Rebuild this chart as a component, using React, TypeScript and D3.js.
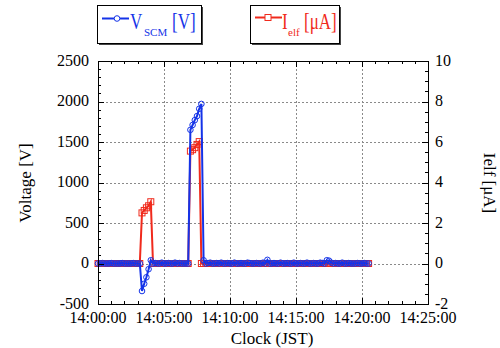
import React, { useEffect, useRef } from 'react';
import * as d3 from 'd3';

// sample clock (every 10 s from 14:00:00)
const clock = [
  '14:00:00','14:00:10','14:00:20','14:00:30','14:00:40','14:00:50',
  '14:01:00','14:01:10','14:01:20','14:01:30','14:01:40','14:01:50',
  '14:02:00','14:02:10','14:02:20','14:02:30','14:02:40','14:02:50',
  '14:03:00','14:03:10','14:03:20','14:03:30','14:03:40','14:03:50',
  '14:04:00','14:04:10','14:04:20','14:04:30','14:04:40','14:04:50',
  '14:05:00','14:05:10','14:05:20','14:05:30','14:05:40','14:05:50',
  '14:06:00','14:06:10','14:06:20','14:06:30','14:06:40','14:06:50',
  '14:07:00','14:07:10','14:07:20','14:07:30','14:07:40','14:07:50',
  '14:08:00','14:08:10','14:08:20','14:08:30','14:08:40','14:08:50',
  '14:09:00','14:09:10','14:09:20','14:09:30','14:09:40','14:09:50',
  '14:10:00','14:10:10','14:10:20','14:10:30','14:10:40','14:10:50',
  '14:11:00','14:11:10','14:11:20','14:11:30','14:11:40','14:11:50',
  '14:12:00','14:12:10','14:12:20','14:12:30','14:12:40','14:12:50',
  '14:13:00','14:13:10','14:13:20','14:13:30','14:13:40','14:13:50',
  '14:14:00','14:14:10','14:14:20','14:14:30','14:14:40','14:14:50',
  '14:15:00','14:15:10','14:15:20','14:15:30','14:15:40','14:15:50',
  '14:16:00','14:16:10','14:16:20','14:16:30','14:16:40','14:16:50',
  '14:17:00','14:17:10','14:17:20','14:17:30','14:17:40','14:17:50',
  '14:18:00','14:18:10','14:18:20','14:18:30','14:18:40','14:18:50',
  '14:19:00','14:19:10','14:19:20','14:19:30','14:19:40','14:19:50',
  '14:20:00','14:20:10','14:20:20','14:20:30',
];

// V_SCM [V]
const vscm = [
  0, 0, 5, 0, 0, 0, 5, 0, 0, 0, 0, 5, 0, 0, 0, 0, 5, 0,
  0, 0, -340, -250, -170, -70, 40, 0,
  5, 0, 0, 10, 0, 0, 5, 0, 0, 10, 0, 5, 0, 0, 0, 0,
  1650, 1710, 1770, 1820, 1910, 1970, 40,
  0, 5, 10, 0, 0, 5, 0, 10, 0, 0, 5, 0, 0, 10, 0, 0, 5, 0, 0, 10, 5, 0,
  0, 5, 0, 0, 10, 0, 45, 0, 0, 5, 0, 0, 10, 0, 0, 5, 0, 0, 10, 0, 0, 5,
  0, 0, 10, 0, 0, 5, 0, 0, 10, 5, 0, 40, 35, 10, 0, 5, 0, 0, 10, 0, 0,
  5, 0, 0, 0, 5, 0, 0, 5, 0, 0,
];

// I_elf [uA]
const ielf = [
  0, 0, 0, 0, 0, 0, 0, 0, 0, 0, 0, 0, 0, 0, 0, 0, 0, 0,
  0, 0, 2.5, 2.62, 2.75, 2.85, 3.05, 0,
  0, 0, 0, 0, 0, 0, 0, 0, 0, 0, 0, 0, 0, 0, 0, 0,
  5.55, 5.62, 5.72, 5.88, 6.02, 0, 0,
  0, 0, 0, 0, 0, 0, 0, 0, 0, 0, 0, 0, 0, 0, 0, 0, 0, 0, 0, 0, 0, 0,
  0, 0, 0, 0, 0, 0, 0, 0, 0, 0, 0, 0, 0, 0, 0, 0, 0, 0, 0, 0, 0, 0,
  0, 0, 0, 0, 0, 0, 0, 0, 0, 0, 0, 0, 0, 0, 0, 0, 0, 0, 0, 0, 0,
  0, 0, 0, 0, 0, 0, 0, 0, 0, 0,
];

const xTicks = ['14:00:00', '14:05:00', '14:10:00', '14:15:00', '14:20:00', '14:25:00'];
const vTicks = [-500, 0, 500, 1000, 1500, 2000, 2500];
const iTicks = [-2, 0, 2, 4, 6, 8, 10];

const BLUE = '#1433e8';
const RED = '#f02a1c';
const FONT = "'Liberation Serif', 'Times New Roman', Times, serif";

const toSec = (s: string) => {
  const [h, m, sec] = s.split(':').map(Number);
  return (h - 14) * 3600 + m * 60 + sec;
};

const App = () => {
  const svgRef = useRef<SVGSVGElement>(null);

  useEffect(() => {
    const W = 500, H = 348;
    const left = 98, right = 428, top = 61, bottom = 304;

    const svg = d3.select(svgRef.current)
      .attr('width', W)
      .attr('height', H)
      .style('font-family', FONT);
    svg.selectAll('*').remove();

    const x = d3.scaleLinear().domain([0, 1500]).range([left, right]);
    const yV = d3.scaleLinear().domain([-500, 2500]).range([bottom, top]);
    const yI = d3.scaleLinear().domain([-2, 10]).range([bottom, top]);

    const xs = clock.map(toSec);

    // grid
    const grid = svg.append('g')
      .attr('stroke', '#8a8a8a')
      .attr('stroke-width', 1)
      .attr('stroke-dasharray', '2,2');
    xTicks.slice(1, -1).forEach(t => {
      const px = Math.round(x(toSec(t))) + 0.5;
      grid.append('line').attr('x1', px).attr('x2', px).attr('y1', top).attr('y2', bottom);
    });
    vTicks.slice(1, -1).forEach(v => {
      const py = Math.round(yV(v)) + 0.5;
      grid.append('line').attr('x1', left).attr('x2', right).attr('y1', py).attr('y2', py);
    });

    // series
    const plot = svg.append('g');
    const lineI = d3.line<number>().x((d, i) => x(xs[i])).y(d => yI(d));
    const lineV = d3.line<number>().x((d, i) => x(xs[i])).y(d => yV(d));

    plot.append('path')
      .datum(ielf)
      .attr('d', lineI)
      .attr('fill', 'none')
      .attr('stroke', RED)
      .attr('stroke-width', 2);
    plot.append('g')
      .selectAll('rect')
      .data(ielf)
      .enter()
      .append('rect')
      .attr('x', (d, i) => x(xs[i]) - 3)
      .attr('y', d => yI(d) - 3)
      .attr('width', 6)
      .attr('height', 6)
      .attr('fill', 'none')
      .attr('stroke', RED)
      .attr('stroke-width', 1);

    plot.append('path')
      .datum(vscm)
      .attr('d', lineV)
      .attr('fill', 'none')
      .attr('stroke', BLUE)
      .attr('stroke-width', 2);
    plot.append('g')
      .selectAll('circle')
      .data(vscm)
      .enter()
      .append('circle')
      .attr('cx', (d, i) => x(xs[i]))
      .attr('cy', d => yV(d))
      .attr('r', 2.8)
      .attr('fill', 'none')
      .attr('stroke', BLUE)
      .attr('stroke-width', 1);

    // frame and ticks
    svg.append('rect')
      .attr('x', left + 0.5).attr('y', top + 0.5)
      .attr('width', right - left).attr('height', bottom - top)
      .attr('fill', 'none').attr('stroke', '#000').attr('stroke-width', 1);

    const ticks = svg.append('g').attr('stroke', '#000').attr('stroke-width', 1);
    for (let s = 0; s <= 1500; s += 60) {
      const px = Math.round(x(s)) + 0.5;
      const len = s % 300 === 0 ? 6 : 3;
      ticks.append('line').attr('x1', px).attr('x2', px).attr('y1', bottom).attr('y2', bottom - len);
      ticks.append('line').attr('x1', px).attr('x2', px).attr('y1', top).attr('y2', top + len);
    }
    for (let v = -500; v <= 2500; v += 100) {
      const py = Math.round(yV(v)) + 0.5;
      const len = v % 500 === 0 ? 6 : 3;
      ticks.append('line').attr('x1', left).attr('x2', left + len).attr('y1', py).attr('y2', py);
    }
    for (let v = -2; v <= 10; v += 0.5) {
      const py = Math.round(yI(v)) + 0.5;
      const len = v % 2 === 0 ? 6 : 3;
      ticks.append('line').attr('x1', right).attr('x2', right - len).attr('y1', py).attr('y2', py);
    }

    const txt = svg.append('g')
      .style('font-family', FONT)
      .attr('font-size', 16)
      .attr('fill', '#000');

    vTicks.forEach(v => {
      txt.append('text')
        .attr('x', 89).attr('y', yV(v) + 4.5)
        .attr('text-anchor', 'end')
        .text(v);
    });
    iTicks.forEach(v => {
      txt.append('text')
        .attr('x', 435).attr('y', yI(v) + 4.5)
        .text(v);
    });
    xTicks.forEach(t => {
      txt.append('text')
        .attr('x', x(toSec(t))).attr('y', 323)
        .attr('text-anchor', 'middle')
        .text(t);
    });

    txt.append('text')
      .attr('x', 272).attr('y', 344)
      .attr('font-size', 17)
      .attr('text-anchor', 'middle')
      .text('Clock (JST)');
    txt.append('text')
      .attr('transform', 'translate(31,183) rotate(-90)')
      .attr('font-size', 17)
      .attr('text-anchor', 'middle')
      .text('Voltage [V]');
    txt.append('text')
      .attr('transform', 'translate(484,183) rotate(90)')
      .attr('font-size', 17)
      .attr('text-anchor', 'middle')
      .text('Ielf [μA]');

    // legends
    const big = (g: any, tx: number, s: string, color: string) => {
      g.append('text')
        .attr('transform', `translate(${tx},28.5) scale(0.74,1)`)
        .style('font-family', FONT).attr('font-size', 23).attr('fill', color)
        .text(s);
    };
    const small = (g: any, tx: number, s: string, color: string) => {
      g.append('text')
        .attr('x', tx).attr('y', 36)
        .style('font-family', FONT).attr('font-size', 11).attr('fill', color)
        .text(s);
    };
    const legendBox = (bx: number, bw: number, color: string, ly: number, mx: number, square: boolean) => {
      const g = svg.append('g');
      g.append('rect').attr('x', bx + 2).attr('y', 7).attr('width', bw).attr('height', 38).attr('fill', '#444');
      g.append('rect').attr('x', bx + 0.5).attr('y', 5.5).attr('width', bw).attr('height', 38)
        .attr('fill', '#fff').attr('stroke', '#000').attr('stroke-width', 1);
      g.append('line').attr('x1', bx + 5).attr('x2', bx + 32).attr('y1', ly).attr('y2', ly)
        .attr('stroke', color).attr('stroke-width', 2);
      if (square) {
        g.append('rect').attr('x', mx - 3).attr('y', ly - 3).attr('width', 6).attr('height', 6)
          .attr('fill', '#fff').attr('stroke', color);
      } else {
        g.append('circle').attr('cx', mx).attr('cy', ly).attr('r', 2.8)
          .attr('fill', '#fff').attr('stroke', color);
      }
      return g;
    };

    const gV = legendBox(97, 104, BLUE, 18.5, 117, false);
    big(gV, 130, 'V', BLUE);
    small(gV, 144, 'SCM', BLUE);
    big(gV, 172, '[V]', BLUE);

    const gI = legendBox(250, 89, RED, 17.5, 268, true);
    big(gI, 282, 'I', RED);
    small(gI, 288, 'elf', RED);
    big(gI, 304, '[μA]', RED);
  }, []);

  return (
    <svg ref={svgRef} style={{ position: 'absolute', left: 0, top: 0 }}></svg>
  );
};

export default App;
